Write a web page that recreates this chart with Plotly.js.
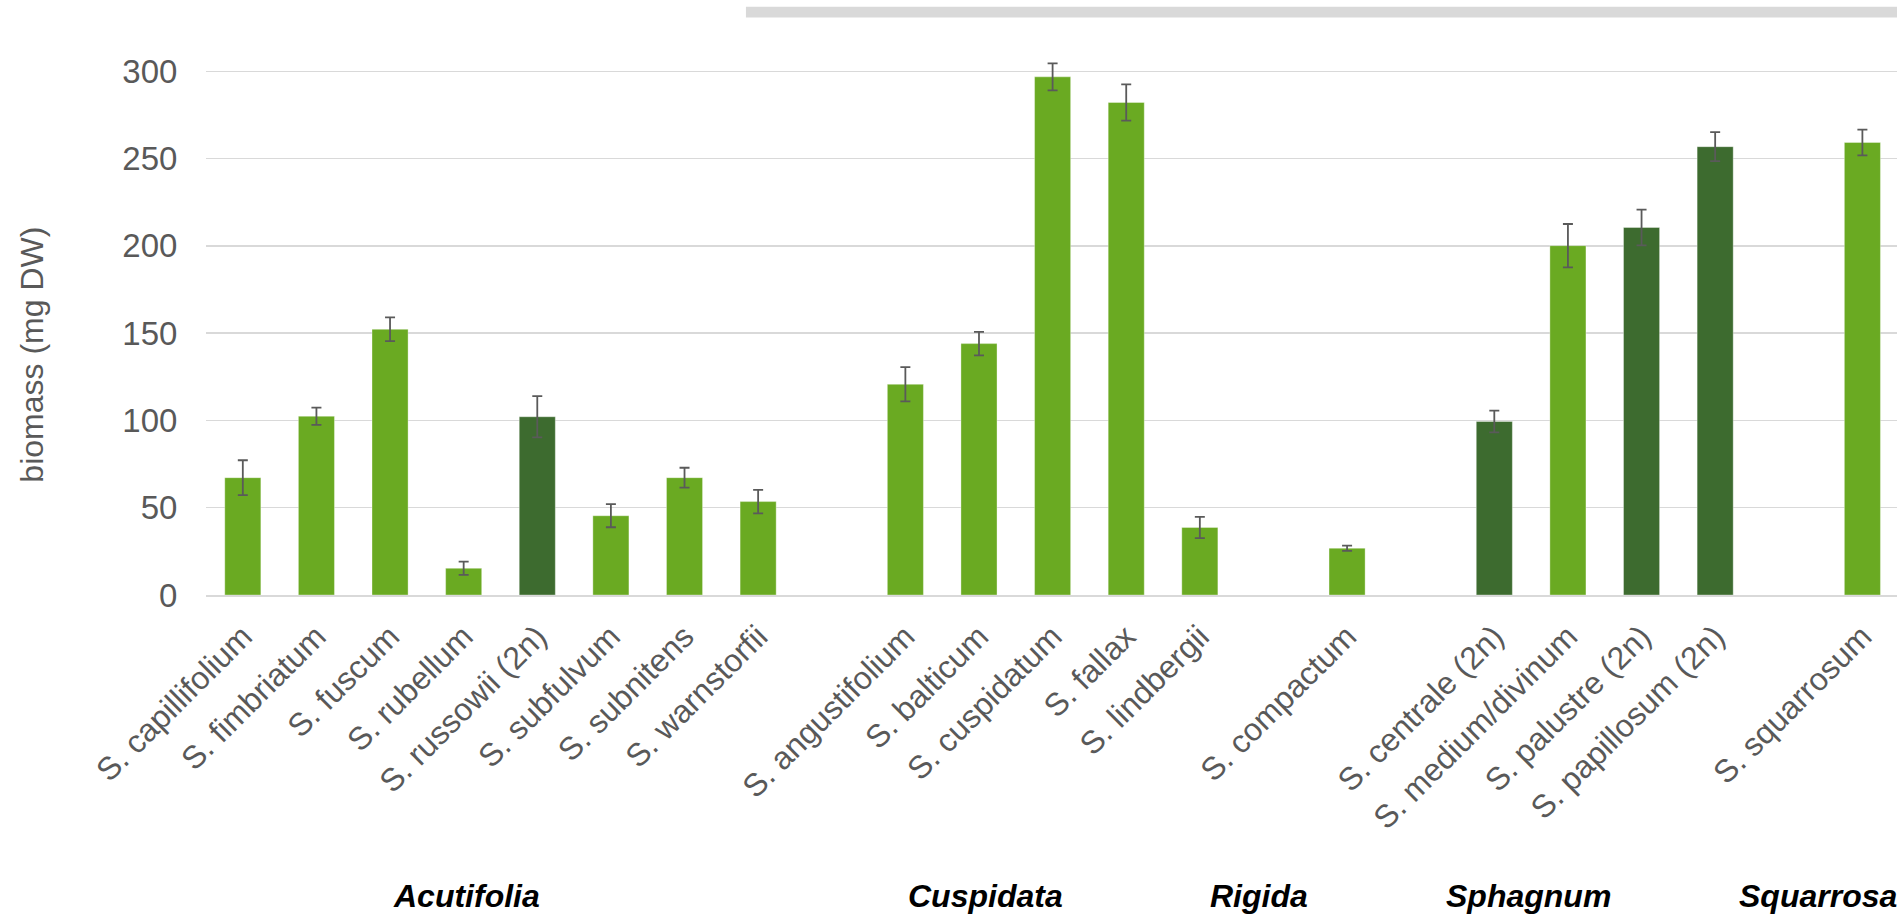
<!DOCTYPE html>
<html>
<head>
<meta charset="utf-8">
<script src="https://cdn.plot.ly/plotly-3.0.1.min.js"></script>
<style>
  html, body { margin: 0; padding: 0; background: #ffffff; }
  #chart { width: 1897px; height: 916px; }
</style>
</head>
<body>
<div id="chart"></div>
<script>
// Species (category labels); whitespace-only entries are the empty slots between sections
const species = [
  'S. capillifolium', 'S. fimbriatum', 'S. fuscum', 'S. rubellum', 'S. russowii (2n)',
  'S. subfulvum', 'S. subnitens', 'S. warnstorfii', ' ',
  'S. angustifolium', 'S. balticum', 'S. cuspidatum', 'S. fallax', 'S. lindbergii', '  ',
  'S. compactum', '   ',
  'S. centrale (2n)', 'S. medium/divinum', 'S. palustre (2n)', 'S. papillosum (2n)', '    ',
  'S. squarrosum'
];
// Biomass (mg DW)
const biomass = [
  67.2, 102.4, 152.2, 15.3, 102.1, 45.4, 67.2, 53.5, null,
  120.7, 144.0, 296.8, 282.1, 38.7, null,
  26.8, null,
  99.4, 200.1, 210.5, 256.8, null,
  259.2
];
// Error (± mg DW)
const errorValues = [
  10.0, 4.9, 6.8, 3.8, 11.8, 6.6, 5.7, 6.7, null,
  9.8, 6.7, 7.7, 10.4, 6.1, null,
  1.5, null,
  6.2, 12.4, 10.2, 8.3, null,
  7.4
];
// Section names
const sections = ['Acutifolia', 'Cuspidata', 'Rigida', 'Sphagnum', 'Squarrosa'];
// y-axis ticks and title
const yTicks = [0, 50, 100, 150, 200, 250, 300];
const yTitle = 'biomass (mg DW)';

// ---- styling / layout constants ----
const LIGHT = '#6AAA22';
const DARK = '#3D6B2F';
const sectionLabelX = [3.04, 10.09, 13.8, 17.46, 21.4];

const colors = species.map(s => s.includes('(2n)') ? DARK : LIGHT);

const trace = {
  type: 'bar',
  x: species,
  y: biomass,
  marker: { color: colors, line: { color: 'rgba(255,255,255,0.35)', width: 1 } },
  error_y: {
    type: 'data', array: errorValues, visible: true,
    color: '#5A5A5A', thickness: 1.8, width: 5
  },
  hoverinfo: 'skip'
};

const annotations = sections.map((name, i) => ({
  text: name,
  xref: 'x', yref: 'paper',
  x: sectionLabelX[i], y: -0.5385,
  xanchor: 'center', yanchor: 'middle',
  showarrow: false,
  font: { family: 'Liberation Sans, Arial, sans-serif', size: 32, color: '#000000', weight: 'bold', style: 'italic' }
}));
annotations.push({
  text: yTitle,
  xref: 'paper', yref: 'paper',
  x: -0.1029, y: 0.430,
  xanchor: 'center', yanchor: 'middle',
  textangle: -90,
  showarrow: false,
  font: { family: 'Liberation Sans, Arial, sans-serif', size: 32, color: '#595959' }
});

const layout = {
  width: 1897, height: 916,
  margin: { l: 206, r: 0, t: 36, b: 321, autoexpand: false },
  paper_bgcolor: '#ffffff', plot_bgcolor: '#ffffff',
  showlegend: false,
  bargap: 0.51,
  font: { family: 'Liberation Sans, Arial, sans-serif', color: '#595959' },
  xaxis: {
    type: 'category',
    range: [-0.5, 22.47],
    tickangle: -45,
    tickfont: { size: 32, color: '#595959' },
    showgrid: false,
    showline: true, linecolor: '#D9D9D9', linewidth: 2,
    ticks: 'outside', ticklen: 8, tickcolor: 'rgba(0,0,0,0)',
    zeroline: false,
    fixedrange: true
  },
  yaxis: {
    range: [0, 320.2],
    tickvals: yTicks,
    ticktext: yTicks.map(String),
    tickfont: { size: 33, color: '#595959' },
    showgrid: true, gridcolor: '#D9D9D9', gridwidth: 1.4,
    zeroline: false,
    showline: false,
    ticks: 'outside', ticklen: 21, tickcolor: 'rgba(0,0,0,0)',
    fixedrange: true
  },
  shapes: [{
    type: 'rect', xref: 'paper', yref: 'paper',
    x0: 0.3193, x1: 1.01, y0: 1.0331, y1: 1.0524,
    fillcolor: '#D9D9D9', line: { width: 0 }, layer: 'above'
  }],
  annotations: annotations
};

Plotly.newPlot('chart', [trace], layout, { staticPlot: true, displayModeBar: false });
</script>
</body>
</html>
